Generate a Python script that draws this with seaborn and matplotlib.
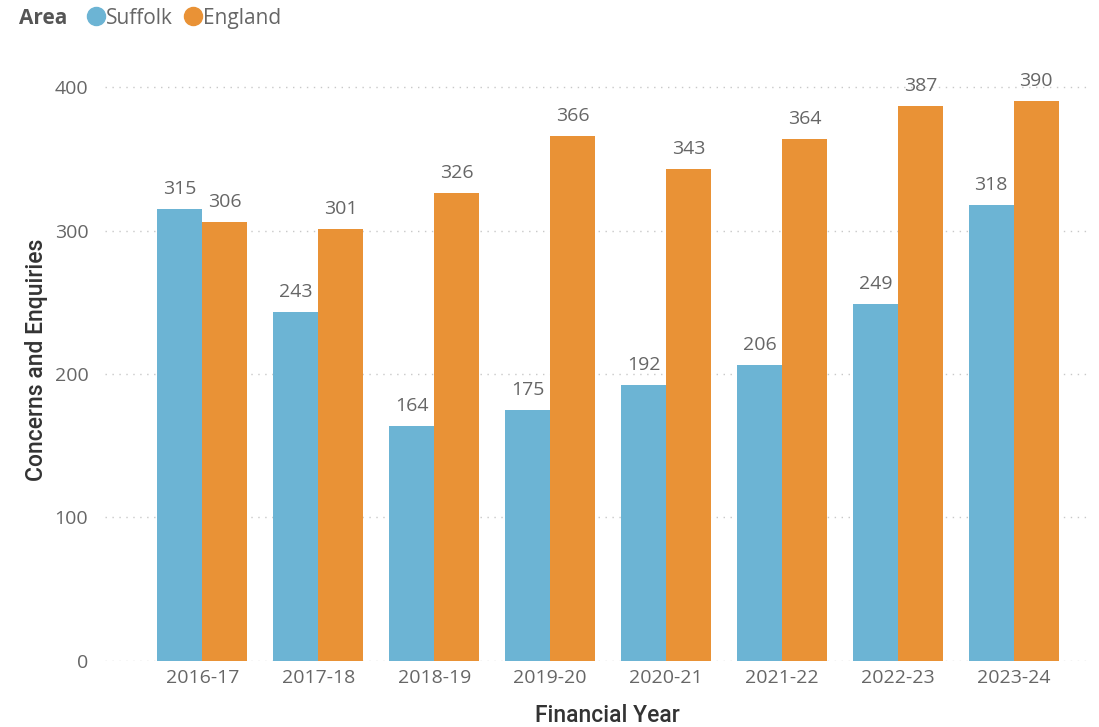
import seaborn as sns
import matplotlib.pyplot as plt
import pandas as pd
from matplotlib.lines import Line2D

years = ['2016-17', '2017-18', '2018-19', '2019-20', '2020-21', '2021-22', '2022-23', '2023-24']
suffolk = [315, 243, 164, 175, 192, 206, 249, 318]
england = [306, 301, 326, 366, 343, 364, 387, 390]
areas = ['Suffolk', 'England']
colors = ['#6CB4D4', '#E99236']

df = pd.DataFrame({
    'Financial Year': years * 2,
    'Value': suffolk + england,
    'Area': ['Suffolk'] * len(years) + ['England'] * len(years),
})

sns.set_style('white')
plt.rcParams['font.family'] = ['Open Sans', 'DejaVu Sans']

fig = plt.figure(figsize=(10.99, 7.27), dpi=100)
ax = fig.add_axes([0.0955, 0.0908, 0.8965, 0.829])

sns.barplot(data=df, x='Financial Year', y='Value', hue='Area', palette=colors,
            width=0.776, ax=ax, legend=False, saturation=1, linewidth=0)

for cont in ax.containers:
    ax.bar_label(cont, padding=8, fontsize=14, color='#666666')

ax.set_ylim(0, 420)
ax.set_xlim(-0.84, 7.66)
ax.set_yticks([0, 100, 200, 300, 400])
ax.tick_params(axis='both', length=0, labelsize=14, labelcolor='#666666')
ax.tick_params(axis='y', pad=12)
ax.tick_params(axis='x', pad=6)
ax.yaxis.grid(True, color='#C8C8C8', linestyle=(0, (1, 4)), linewidth=1)
ax.set_axisbelow(True)
for s in ax.spines.values():
    s.set_visible(False)

ax.set_xlabel('Financial Year', fontsize=16.5, color='#333333', fontweight='medium',
              family=['Roboto', 'DejaVu Sans'])
ax.set_ylabel('Concerns and Enquiries', fontsize=16.5, color='#333333', fontweight='medium',
              family=['Roboto', 'DejaVu Sans'])
ax.xaxis.set_label_coords(0.51, -0.072)
ax.yaxis.set_label_coords(-0.058, 0.5)

fig.text(0.017, 0.975, 'Area', fontsize=15, fontweight='bold', color='#555555', va='center')
handles = [Line2D([0], [0], marker='o', linestyle='', markersize=13,
                  markerfacecolor=c, markeredgecolor=c) for c in colors]
fig.legend(handles, areas, loc='center left', bbox_to_anchor=(0.068, 0.975), ncol=2,
           frameon=False, fontsize=15, handletextpad=0.0, columnspacing=0.45,
           labelcolor='#666666', borderpad=0, handlelength=1.0)

plt.savefig('out.png', dpi=100)
